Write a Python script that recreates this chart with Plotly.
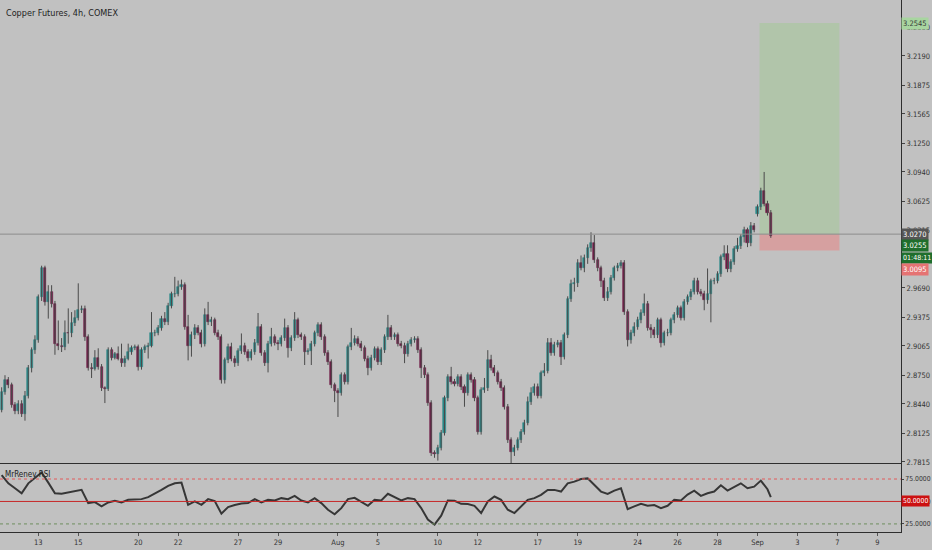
import plotly.graph_objects as go

# 4h bars, Copper Futures (COMEX)
opens = [
    2.837, 2.857, 2.870, 2.864, 2.843, 2.836, 2.844, 2.833, 2.853, 2.883,
    2.902, 2.913, 2.959, 2.990, 2.954, 2.965, 2.952, 2.909, 2.907, 2.905,
    2.921, 2.920, 2.931, 2.937, 2.945, 2.946, 2.916, 2.883, 2.882, 2.894,
    2.884, 2.861, 2.860, 2.902, 2.894, 2.898, 2.893, 2.888, 2.893, 2.900,
    2.904, 2.905, 2.884, 2.902, 2.905, 2.907, 2.920, 2.921, 2.926, 2.936,
    2.932, 2.950, 2.962, 2.963, 2.970, 2.972, 2.927, 2.907, 2.918, 2.926,
    2.921, 2.909, 2.940, 2.932, 2.934, 2.921, 2.916, 2.870, 2.891, 2.905,
    2.893, 2.888, 2.901, 2.907, 2.900, 2.894, 2.900, 2.910, 2.927, 2.899,
    2.888, 2.909, 2.916, 2.910, 2.909, 2.915, 2.926, 2.904, 2.915, 2.934,
    2.918, 2.916, 2.900, 2.901, 2.909, 2.920, 2.929, 2.916, 2.899, 2.889,
    2.864, 2.858, 2.856, 2.875, 2.868, 2.905, 2.910, 2.914, 2.909, 2.904,
    2.893, 2.883, 2.894, 2.903, 2.889, 2.902, 2.916, 2.926, 2.916, 2.918,
    2.909, 2.907, 2.898, 2.909, 2.913, 2.914, 2.902, 2.883, 2.875, 2.845,
    2.791, 2.790, 2.797, 2.813, 2.850, 2.873, 2.868, 2.866, 2.873, 2.862,
    2.856, 2.875, 2.870, 2.850, 2.814, 2.859, 2.861, 2.891, 2.883, 2.877,
    2.868, 2.861, 2.841, 2.805, 2.792, 2.797, 2.805, 2.814, 2.824, 2.846,
    2.856, 2.862, 2.853, 2.877, 2.880, 2.910, 2.899, 2.908, 2.910, 2.895,
    2.918, 2.957, 2.973, 2.974, 2.996, 2.991, 3.001, 3.012, 3.017, 2.999,
    2.990, 2.977, 2.958, 2.965, 2.980, 2.990, 2.993, 2.996, 2.943, 2.913,
    2.920, 2.927, 2.934, 2.942, 2.952, 2.926, 2.924, 2.918, 2.934, 2.910,
    2.920, 2.921, 2.934, 2.940, 2.947, 2.937, 2.954, 2.959, 2.965, 2.977,
    2.965, 2.963, 2.956, 2.963, 2.976, 2.977, 2.984, 3.002, 3.006, 2.989,
    2.997, 3.011, 3.014, 3.024, 3.031, 3.017, 3.036, 3.049, 3.056, 3.074,
    3.060, 3.050,
]
highs = [
    2.862, 2.875, 2.873, 2.867, 2.846, 2.848, 2.848, 2.858, 2.886, 2.905,
    2.918, 2.962, 2.993, 2.993, 2.972, 2.972, 2.955, 2.934, 2.915, 2.934,
    2.947, 2.943, 2.945, 2.974, 2.950, 2.950, 2.919, 2.888, 2.902, 2.904,
    2.887, 2.863, 2.905, 2.905, 2.900, 2.906, 2.909, 2.896, 2.909, 2.907,
    2.908, 2.908, 2.905, 2.908, 2.910, 2.943, 2.924, 2.929, 2.939, 2.943,
    2.953, 2.965, 2.981, 2.977, 2.978, 2.975, 2.940, 2.922, 2.930, 2.929,
    2.924, 2.947, 2.954, 2.938, 2.937, 2.924, 2.919, 2.894, 2.909, 2.910,
    2.896, 2.904, 2.920, 2.910, 2.903, 2.903, 2.914, 2.942, 2.930, 2.902,
    2.912, 2.926, 2.919, 2.913, 2.918, 2.936, 2.929, 2.918, 2.943, 2.937,
    2.921, 2.919, 2.904, 2.912, 2.923, 2.932, 2.932, 2.919, 2.902, 2.892,
    2.867, 2.861, 2.878, 2.878, 2.908, 2.926, 2.918, 2.917, 2.912, 2.907,
    2.896, 2.897, 2.906, 2.906, 2.905, 2.919, 2.940, 2.929, 2.921, 2.921,
    2.912, 2.910, 2.912, 2.916, 2.917, 2.917, 2.905, 2.886, 2.878, 2.848,
    2.794, 2.800, 2.816, 2.853, 2.876, 2.884, 2.871, 2.876, 2.876, 2.865,
    2.878, 2.878, 2.873, 2.853, 2.862, 2.872, 2.902, 2.897, 2.886, 2.880,
    2.871, 2.864, 2.844, 2.808, 2.800, 2.808, 2.817, 2.827, 2.852, 2.862,
    2.866, 2.866, 2.880, 2.888, 2.915, 2.915, 2.911, 2.913, 2.913, 2.921,
    2.960, 2.978, 2.980, 3.000, 3.004, 3.005, 3.016, 3.029, 3.026, 3.002,
    2.993, 2.980, 2.970, 2.983, 2.993, 2.996, 2.999, 2.999, 2.946, 2.924,
    2.932, 2.938, 2.946, 2.963, 2.955, 2.930, 2.927, 2.937, 2.937, 2.923,
    2.925, 2.937, 2.943, 2.950, 2.950, 2.957, 2.962, 2.968, 2.980, 2.980,
    2.968, 2.966, 2.990, 2.979, 2.980, 2.987, 3.005, 3.015, 3.015, 3.000,
    3.014, 3.023, 3.027, 3.035, 3.034, 3.040, 3.039, 3.059, 3.077, 3.094,
    3.063, 3.053,
]
lows = [
    2.835, 2.854, 2.861, 2.840, 2.833, 2.833, 2.830, 2.826, 2.850, 2.878,
    2.898, 2.910, 2.955, 2.950, 2.936, 2.948, 2.897, 2.902, 2.900, 2.902,
    2.909, 2.916, 2.928, 2.934, 2.942, 2.912, 2.880, 2.872, 2.880, 2.881,
    2.858, 2.845, 2.858, 2.891, 2.892, 2.891, 2.884, 2.884, 2.891, 2.897,
    2.902, 2.880, 2.881, 2.899, 2.893, 2.905, 2.917, 2.918, 2.923, 2.929,
    2.929, 2.947, 2.959, 2.960, 2.967, 2.924, 2.891, 2.895, 2.914, 2.918,
    2.905, 2.906, 2.929, 2.928, 2.918, 2.913, 2.866, 2.866, 2.888, 2.890,
    2.884, 2.885, 2.898, 2.897, 2.890, 2.891, 2.897, 2.907, 2.896, 2.885,
    2.878, 2.906, 2.907, 2.902, 2.906, 2.912, 2.894, 2.901, 2.912, 2.915,
    2.913, 2.886, 2.897, 2.886, 2.906, 2.917, 2.913, 2.896, 2.886, 2.861,
    2.846, 2.830, 2.853, 2.865, 2.865, 2.902, 2.907, 2.906, 2.901, 2.890,
    2.875, 2.880, 2.891, 2.886, 2.886, 2.899, 2.913, 2.913, 2.913, 2.906,
    2.904, 2.888, 2.895, 2.906, 2.910, 2.899, 2.872, 2.872, 2.842, 2.788,
    2.786, 2.783, 2.794, 2.810, 2.847, 2.865, 2.863, 2.863, 2.859, 2.841,
    2.853, 2.867, 2.847, 2.811, 2.811, 2.856, 2.858, 2.880, 2.874, 2.865,
    2.858, 2.838, 2.802, 2.780, 2.788, 2.794, 2.802, 2.811, 2.821, 2.843,
    2.853, 2.850, 2.850, 2.874, 2.877, 2.896, 2.896, 2.905, 2.886, 2.892,
    2.915, 2.954, 2.965, 2.970, 2.988, 2.986, 2.995, 3.008, 2.996, 2.987,
    2.970, 2.955, 2.955, 2.962, 2.977, 2.987, 2.990, 2.940, 2.906, 2.909,
    2.917, 2.924, 2.931, 2.939, 2.923, 2.915, 2.915, 2.915, 2.905, 2.907,
    2.917, 2.918, 2.931, 2.937, 2.934, 2.934, 2.951, 2.956, 2.962, 2.962,
    2.960, 2.945, 2.952, 2.932, 2.973, 2.974, 2.981, 2.999, 2.986, 2.986,
    2.994, 3.008, 3.011, 3.018, 3.013, 3.014, 3.029, 3.046, 3.053, 3.057,
    3.047, 3.023,
]
closes = [
    2.857, 2.870, 2.864, 2.843, 2.836, 2.844, 2.833, 2.853, 2.883, 2.902,
    2.913, 2.959, 2.990, 2.954, 2.965, 2.952, 2.909, 2.907, 2.905, 2.921,
    2.920, 2.931, 2.937, 2.945, 2.946, 2.916, 2.883, 2.882, 2.894, 2.884,
    2.861, 2.860, 2.902, 2.894, 2.898, 2.893, 2.888, 2.893, 2.900, 2.904,
    2.905, 2.884, 2.902, 2.905, 2.907, 2.920, 2.921, 2.926, 2.936, 2.932,
    2.950, 2.962, 2.963, 2.970, 2.972, 2.927, 2.907, 2.918, 2.926, 2.921,
    2.909, 2.940, 2.932, 2.934, 2.921, 2.916, 2.870, 2.891, 2.905, 2.893,
    2.888, 2.901, 2.907, 2.900, 2.894, 2.900, 2.910, 2.927, 2.899, 2.888,
    2.909, 2.916, 2.910, 2.909, 2.915, 2.926, 2.904, 2.915, 2.934, 2.918,
    2.916, 2.900, 2.901, 2.909, 2.920, 2.929, 2.916, 2.899, 2.889, 2.864,
    2.858, 2.856, 2.875, 2.868, 2.905, 2.910, 2.914, 2.909, 2.904, 2.893,
    2.883, 2.894, 2.903, 2.889, 2.902, 2.916, 2.926, 2.916, 2.918, 2.909,
    2.907, 2.898, 2.909, 2.913, 2.914, 2.902, 2.883, 2.875, 2.845, 2.791,
    2.790, 2.797, 2.813, 2.850, 2.873, 2.868, 2.866, 2.873, 2.862, 2.856,
    2.875, 2.870, 2.850, 2.814, 2.859, 2.861, 2.891, 2.883, 2.877, 2.868,
    2.861, 2.841, 2.805, 2.792, 2.797, 2.805, 2.814, 2.824, 2.846, 2.856,
    2.862, 2.853, 2.877, 2.880, 2.910, 2.899, 2.908, 2.910, 2.895, 2.918,
    2.957, 2.973, 2.974, 2.996, 2.991, 3.001, 3.012, 3.017, 2.999, 2.990,
    2.977, 2.958, 2.965, 2.980, 2.990, 2.993, 2.996, 2.943, 2.913, 2.920,
    2.927, 2.934, 2.942, 2.952, 2.926, 2.924, 2.918, 2.934, 2.910, 2.920,
    2.921, 2.934, 2.940, 2.947, 2.937, 2.954, 2.959, 2.965, 2.977, 2.965,
    2.963, 2.956, 2.963, 2.976, 2.977, 2.984, 3.002, 3.006, 2.989, 2.997,
    3.011, 3.014, 3.024, 3.031, 3.017, 3.036, 3.031, 3.056, 3.074, 3.060,
    3.050, 3.0255,
]

# RSI read every second bar, plus the last bar
rsi_values = [
    79.4, 70.2, 64.7, 59.2, 70.2, 76.8, 82.3, 71.0, 59.2, 58.5,
    59.9, 62.1, 62.9, 48.2, 49.3, 44.5, 48.9, 50.7, 48.9, 51.8,
    52.6, 52.6, 54.8, 58.5, 62.9, 67.3, 70.2, 71.0, 46.3, 50.0,
    46.3, 52.6, 50.4, 36.4, 43.8, 46.0, 47.8, 48.2, 52.6, 48.9,
    51.8, 51.1, 53.7, 52.6, 56.2, 51.1, 48.9, 53.7, 48.2, 40.8,
    35.7, 42.6, 52.6, 54.0, 50.0, 45.2, 51.8, 51.1, 58.5, 55.1,
    51.1, 53.7, 52.6, 42.6, 29.8, 24.3, 34.2,
    51.1, 50.7, 47.4, 47.1, 45.2, 37.1, 50.0, 55.5, 51.8, 40.8,
    37.1, 44.5, 51.8, 53.7, 57.4, 62.9, 62.9, 61.0, 70.2, 72.1,
    75.0, 75.7, 68.4, 61.0, 58.5, 62.1, 64.7, 41.5, 44.5, 47.4,
    45.2, 46.0, 42.6, 45.2, 51.8, 51.1, 57.7, 62.1, 56.2, 59.2,
    61.0, 68.0, 62.1, 65.8, 70.2, 64.7, 66.5, 73.2, 63.6,
    54.8,
]

# axis labels
tick_bars = [11, 23, 41, 53, 71, 83, 101, 113, 131, 143, 161, 173, 191, 203, 215, 227, 239, 251, 263]
tick_labels = ["13", "15", "20", "22", "27", "29", "Aug", "5", "10", "12",
               "17", "19", "24", "26", "28", "Sep", "3", "7", "9"]
price_ticks = [2.7815, 2.8125, 2.8440, 2.8750, 2.9065, 2.9375, 2.9690, 3.0000,
               3.0315, 3.0625, 3.0940, 3.1250, 3.1565, 3.1875, 3.2190, 3.2500]
rsi_levels = [25, 50, 75]

# long position tool
entry = 3.0270
target = 3.2545
stop = 3.0095
last_price = 3.0255
countdown = "01:48:11"
pos_start, pos_end = 227.6, 251.6

BG = "#c1c1c1"
UP = "#2a8a8a"
DOWN = "#6e1a45"
FONT = "DejaVu Sans Condensed, Liberation Sans Narrow, Liberation Sans, Arial"

n = len(closes)
bars = list(range(n))

wick_x, wick_y = [], []
for i in bars:
    wick_x += [i, i, None]
    wick_y += [lows[i], highs[i], None]

body_base = [min(o, c) for o, c in zip(opens, closes)]
body_size = [abs(c - o) for o, c in zip(opens, closes)]
body_color = [UP if c >= o else DOWN for o, c in zip(opens, closes)]

rsi_bars = list(range(0, n - 1, 2)) + [n - 1]

fig = go.Figure()
fig.add_trace(go.Scatter(
    x=wick_x, y=wick_y, mode="lines",
    line=dict(color="#4a4a4a", width=1),
    hoverinfo="skip", xaxis="x", yaxis="y",
))
fig.add_trace(go.Bar(
    x=bars, y=body_size, base=body_base, width=0.62,
    marker=dict(color=body_color, line=dict(color=body_color, width=0.6)),
    xaxis="x", yaxis="y",
))
fig.add_trace(go.Scatter(
    x=rsi_bars, y=rsi_values, mode="lines",
    line=dict(color="#363636", width=2),
    xaxis="x2", yaxis="y2",
))

shapes = [
    # position box
    dict(type="rect", xref="x", yref="y", x0=pos_start, x1=pos_end, y0=entry, y1=target,
         fillcolor="rgba(150,205,130,0.35)", line=dict(width=0), layer="below"),
    dict(type="rect", xref="x", yref="y", x0=pos_start, x1=pos_end, y0=stop, y1=entry,
         fillcolor="rgba(240,120,120,0.45)", line=dict(width=0), layer="below"),
    dict(type="line", xref="paper", yref="y", x0=0, x1=1, y0=entry, y1=entry,
         line=dict(color="#8c8c8c", width=1)),
    # RSI levels
    dict(type="line", xref="paper", yref="y2", x0=0, x1=1, y0=75, y1=75,
         line=dict(color="#e25a5a", width=1, dash="3px,3px")),
    dict(type="line", xref="paper", yref="y2", x0=0, x1=1, y0=50, y1=50,
         line=dict(color="#c62828", width=1)),
    dict(type="line", xref="paper", yref="y2", x0=0, x1=1, y0=25, y1=25,
         line=dict(color="#6f8f5f", width=1, dash="3px,3px")),
]


def price_tag(y, text, bg, fg="white", yref="y", shift=0, size=7.5):
    return dict(
        xref="paper", yref=yref, x=1, y=y, xanchor="left", yanchor="middle",
        text=text, showarrow=False, bgcolor=bg, borderpad=1, yshift=shift,
        font=dict(family=FONT, size=size, color=fg), align="left",
    )


annotations = [
    dict(xref="paper", yref="paper", x=0, y=1, xanchor="left", yanchor="top",
         xshift=4, yshift=-6, showarrow=False, text="Copper Futures, 4h, COMEX",
         font=dict(family=FONT, size=9, color="#1e1e1e")),
    dict(xref="paper", yref="y2 domain", x=0, y=1, xanchor="left", yanchor="top",
         xshift=3, yshift=-4, showarrow=False, text="MrRenev RSI",
         font=dict(family=FONT, size=8, color="#222222")),
    price_tag(target, "3.2545", "#a8d5a0", fg="#3a3a3a"),
    price_tag(entry, "3.0270", "#555555"),
    price_tag(last_price, "3.0255", "#1f6e2c", shift=-10),
    price_tag(last_price, countdown, "#1f6e2c", shift=-22, size=7),
    price_tag(stop, "3.0095", "#e57373", shift=-19),
    price_tag(50, "50.0000", "#cc1111", yref="y2", size=6.8),
]

x_range = [-0.5, 270.1]
axis_font = dict(family=FONT, size=7.5, color="#333333")
rsi_font = dict(family=FONT, size=6.8, color="#333333")

fig.update_layout(
    width=932, height=550,
    margin=dict(l=0, r=31, t=0, b=18),
    paper_bgcolor=BG, plot_bgcolor=BG,
    showlegend=False, bargap=0,
    font=dict(family=FONT),
    shapes=shapes, annotations=annotations,
    xaxis=dict(domain=[0, 1], anchor="y", range=x_range, showgrid=False,
               zeroline=False, showticklabels=False, showline=True,
               linecolor="#2e2e2e", linewidth=1, ticks=""),
    yaxis=dict(domain=[0.1297, 1], anchor="x", side="right", range=[2.7804, 3.2793],
               tickvals=price_ticks, ticktext=[f"{v:.4f}" for v in price_ticks],
               showgrid=False, zeroline=False, showline=True, linecolor="#2e2e2e",
               linewidth=1, ticks="outside", ticklen=3, tickcolor="#444444",
               tickfont=axis_font, automargin=False),
    xaxis2=dict(domain=[0, 1], anchor="y2", range=x_range, showgrid=False,
                zeroline=False, tickvals=tick_bars, ticktext=tick_labels,
                showline=True, linecolor="#2e2e2e", linewidth=1,
                ticks="outside", ticklen=3, tickcolor="#555555",
                tickfont=axis_font, automargin=False),
    yaxis2=dict(domain=[0, 0.1278], anchor="x2", side="right", range=[16, 91.7],
                tickvals=rsi_levels, ticktext=[f"{v:.4f}" for v in rsi_levels],
                showgrid=False, zeroline=False, showline=True, linecolor="#2e2e2e",
                linewidth=1, ticks="outside", ticklen=2, tickcolor="#444444",
                tickfont=rsi_font, automargin=False),
)

# the page's default body margin would push the figure off the window
fig.write_html("out.html", config={"displayModeBar": False},
               post_script="document.body.style.margin='0';")
